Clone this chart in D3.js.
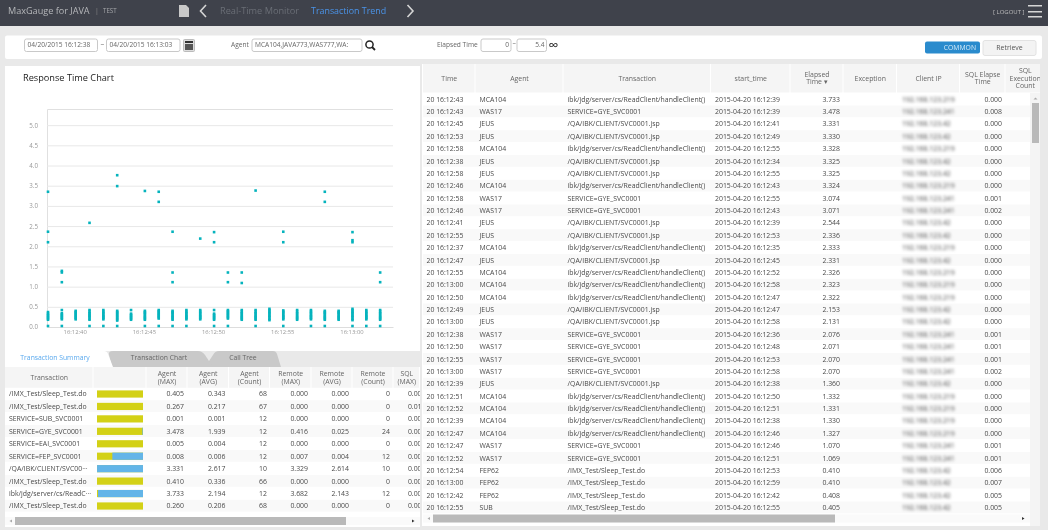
<!DOCTYPE html>
<html>
<head>
<meta charset="utf-8">
<script src="https://cdn.jsdelivr.net/npm/d3@7"></script>
<style>
html, body { margin: 0; padding: 0; background: #e9e9e9; overflow: hidden; }
svg { display: block; font-family: "Open Sans", sans-serif; filter: blur(0.25px); }
.blurred { filter: blur(1.5px); }
</style>
</head>
<body>
<script>
// ---- chart data: elapsed time of every transaction, per second
var chartSeconds = [38, 39, 40, 41, 42, 43, 44, 45, 46, 47, 48, 49, 50, 51, 52, 53, 54, 55, 56, 57, 58, 59, 60, 61, 62];
var chartElapsed = [
    [0.025, 0.18, 0.21, 0.24, 0.27, 0.30, 0.33, 0.37, 2.10, 2.36, 3.35],
    [0.025, 0.19, 0.22, 0.25, 0.28, 0.31, 0.34, 0.42, 1.11, 1.35, 1.39],
    [0.19, 0.22, 0.25, 0.28, 0.31, 0.34, 0.37, 0.40],
    [0.025, 0.18, 0.21, 0.25, 0.28, 0.31, 0.34, 0.38, 0.42, 2.58],
    [0.025, 0.19, 0.22, 0.25, 0.28, 0.31, 0.35, 0.38, 0.42],
    [0.025, 0.16, 0.19, 0.22, 0.25, 0.28, 0.31, 0.34, 0.37, 0.40, 3.49, 3.76],
    [0.18, 0.21, 0.24, 0.27, 0.30, 0.33, 0.42],
    [0.025, 0.18, 0.21, 0.24, 0.27, 0.31, 0.34, 0.37, 0.40, 3.37],
    [0.025, 0.21, 0.24, 0.27, 0.30, 0.33, 0.36, 0.39, 0.42, 3.10, 3.35],
    [0.025, 0.18, 0.21, 0.24, 0.27, 0.31, 0.34, 0.37, 0.40, 1.11, 1.35, 2.36],
    [0.025, 0.19, 0.22, 0.25, 0.28, 0.31, 0.35, 0.38, 0.42],
    [0.19, 0.22, 0.25, 0.28, 0.31, 0.35, 0.38, 0.42, 2.19],
    [0.025, 0.18, 0.21, 0.24, 0.27, 0.30, 0.33, 0.42, 2.10, 2.35],
    [0.025, 0.21, 0.24, 0.27, 0.30, 0.33, 0.36, 0.39, 0.42, 1.11, 1.35],
    [0.18, 0.21, 0.24, 0.27, 0.31, 0.34, 0.38, 0.42, 1.09, 1.35],
    [0.025, 0.18, 0.21, 0.24, 0.27, 0.31, 0.34, 0.38, 0.42, 3.38],
    [0.17, 0.20, 0.24, 0.27, 0.31, 0.34, 0.38, 0.41, 0.45],
    [0.025, 0.19, 0.22, 0.25, 0.28, 0.31, 0.35, 0.38, 0.41, 2.10, 2.36],
    [0.18, 0.21, 0.24, 0.27, 0.31, 0.34, 0.38, 0.42],
    [0.025, 0.19, 0.22, 0.25, 0.28, 0.31, 0.35, 0.38, 0.42],
    [0.025, 0.18, 0.21, 0.24, 0.27, 0.31, 0.34, 0.37, 0.40, 3.10, 3.35],
    [0.18, 0.21, 0.24, 0.27, 0.31, 0.34, 0.37, 0.40],
    [0.025, 0.17, 0.20, 0.24, 0.27, 0.31, 0.34, 0.38, 0.41, 0.45, 2.10, 2.15, 2.35],
    [0.025, 0.19, 0.22, 0.25, 0.28, 0.31, 0.35, 0.38, 0.42],
    [0.025, 0.18, 0.21, 0.24, 0.27, 0.31, 0.34, 0.38, 0.42, 1.11, 1.35]
];
var yTickValues = [0, 0.5, 1, 1.5, 2, 2.5, 3, 3.5, 4, 4.5, 5];
var xTickSeconds = [40, 45, 50, 55, 60];

// ---- transaction summary table
var summaryHeaders = [["Transaction"], [""], ["Agent", "(MAX)"], ["Agent", "(AVG)"], ["Agent", "(Count)"], ["Remote", "(MAX)"], ["Remote", "(AVG)"], ["Remote", "(Count)"], ["SQL", "(MAX)"]];
var summaryNames = ["/IMX_Test/Sleep_Test.do", "/IMX_Test/Sleep_Test.do", "SERVICE=SUB_SVC0001", "SERVICE=GYE_SVC0001", "SERVICE=EAI_SVC0001", "SERVICE=FEP_SVC0001", "/QA/IBK/CLIENT/SVC00\u00b7\u00b7\u00b7", "/IMX_Test/Sleep_Test.do", "ibk/jdg/server/cs/ReadC\u00b7\u00b7\u00b7", "/IMX_Test/Sleep_Test.do"];
var agentMax = ["0.405", "0.267", "0.001", "3.478", "0.005", "0.008", "3.331", "0.410", "3.733", "0.260"];
var agentAvg = ["0.343", "0.217", "0.001", "1.939", "0.004", "0.006", "2.617", "0.336", "2.194", "0.206"];
var agentCount = ["68", "67", "12", "12", "12", "12", "10", "66", "12", "68"];
var remoteMax = ["0.000", "0.000", "0.000", "0.416", "0.000", "0.007", "3.329", "0.000", "3.682", "0.000"];
var remoteAvg = ["0.000", "0.000", "0.000", "0.025", "0.000", "0.004", "2.614", "0.000", "2.143", "0.000"];
var remoteCount = ["0", "0", "0", "24", "0", "12", "10", "0", "12", "0"];
var sqlMax = ["0.006", "0.010", "0.001", "0.008", "0.001", "0.001", "0.000", "0.007", "0.000", "0.005"];

// ---- transaction list table
var listHeaders = [["Time"], ["Agent"], ["Transaction"], ["start_time"], ["Elapsed", "Time \u25be"], ["Exception"], ["Client IP"], ["SQL Elapse", "Time"], ["SQL", "Execution", "Count"]];
var listTime = ["12:43", "12:43", "12:45", "12:53", "12:58", "12:38", "12:58", "12:46", "12:58", "12:46", "12:41", "12:55", "12:37", "12:47", "12:55", "13:00", "12:50", "12:49", "13:00", "12:38", "12:50", "12:55", "13:00", "12:39", "12:51", "12:52", "12:39", "12:47", "12:47", "12:52", "12:54", "13:00", "12:42", "12:55"];
var listAgent = ["MCA104", "WAS17", "JEUS", "JEUS", "MCA104", "JEUS", "JEUS", "MCA104", "WAS17", "WAS17", "JEUS", "JEUS", "MCA104", "JEUS", "MCA104", "MCA104", "MCA104", "JEUS", "JEUS", "WAS17", "WAS17", "WAS17", "WAS17", "JEUS", "MCA104", "MCA104", "MCA104", "MCA104", "WAS17", "WAS17", "FEP62", "FEP62", "FEP62", "SUB"];
var listStart = ["12:39", "12:39", "12:41", "12:49", "12:55", "12:34", "12:55", "12:43", "12:55", "12:43", "12:39", "12:53", "12:35", "12:45", "12:52", "12:58", "12:47", "12:47", "12:58", "12:36", "12:48", "12:53", "12:58", "12:38", "12:50", "12:51", "12:38", "12:46", "12:46", "12:51", "12:53", "12:59", "12:42", "12:55"];
var listElapsed = ["3.733", "3.478", "3.331", "3.330", "3.328", "3.325", "3.325", "3.324", "3.074", "3.071", "2.544", "2.336", "2.333", "2.331", "2.326", "2.323", "2.322", "2.153", "2.131", "2.076", "2.071", "2.070", "2.070", "1.360", "1.332", "1.331", "1.330", "1.327", "1.070", "1.069", "0.410", "0.410", "0.408", "0.405"];
var listSql = ["0.000", "0.008", "0.000", "0.000", "0.000", "0.000", "0.000", "0.000", "0.001", "0.002", "0.000", "0.000", "0.000", "0.000", "0.000", "0.000", "0.000", "0.000", "0.000", "0.001", "0.001", "0.001", "0.002", "0.000", "0.000", "0.000", "0.000", "0.000", "0.001", "0.001", "0.006", "0.007", "0.005", "0.005"];

// transaction name and client address follow the agent
var agentTx = {MCA104: "ibk/jdg/server/cs/ReadClient/handleClient()", WAS17: "SERVICE=GYE_SVC0001", JEUS: "/QA/IBK/CLIENT/SVC0001.jsp", FEP62: "/IMX_Test/Sleep_Test.do", SUB: "/IMX_Test/Sleep_Test.do"};
var agentIp = {MCA104: "192.168.123.219", WAS17: "192.168.123.241", JEUS: "192.168.123.42", FEP62: "192.168.123.42", SUB: "192.168.123.42"};

var textColor = "#4a4a4a";
var cellSize = 6.9, barSize = 6.6;
var svg = d3.select("body").append("svg").attr("width", 1048).attr("height", 530);

function box(x, y, w, h, fill, stroke, r) {
    return svg.append("rect").attr("x", x).attr("y", y).attr("width", w).attr("height", h)
        .attr("fill", fill).attr("stroke", stroke || "none").attr("rx", r || 0);
}
function label(parent, x, y, txt, size, color, anchor) {
    return parent.append("text").attr("x", x).attr("y", y).attr("dy", "0.35em")
        .attr("font-size", size).attr("fill", color).attr("text-anchor", anchor || "start").text(txt);
}

// ---- top bar
box(0, 0, 1048, 26, "#3f424b");
label(svg, 8, 10.5, "MaxGauge for JAVA", 9.1, "#b5b7ba");
label(svg, 95, 10.5, "|", 7, "#888");
label(svg, 103, 10.5, "TEST", 6.2, "#a5a7aa");
svg.append("path").attr("d", "M179 5h7l3 3v9h-10z").attr("fill", "#c9c9c9");
svg.append("path").attr("d", "M206 5l-5.5 6 5.5 6").attr("fill", "none").attr("stroke", "#d5d5d5").attr("stroke-width", 1.6);
label(svg, 220, 10.5, "Real-Time Monitor", 9.2, "#6a6e76");
label(svg, 311, 10.5, "Transaction Trend", 8.9, "#4a94ea");
svg.append("path").attr("d", "M407.5 5l5.5 6-5.5 6").attr("fill", "none").attr("stroke", "#d5d5d5").attr("stroke-width", 1.6);
label(svg, 993, 12, "[ LOGOUT ]", 6, "#bbb");
[5, 11, 16].forEach(function (y) { box(1028, y, 14, 1.5, "#d5d5d5"); });

// ---- filter bar
box(5, 35.5, 1037, 23.5, "#fff", null, 2);
function input(x, w, txt, anchor) {
    box(x, 39, w, 12.5, "#fff", "#c9c9c9", 2);
    label(svg, anchor === "end" ? x + w - 2 : x + 3, 45, txt, barSize, "#666", anchor);
}
input(24.5, 73, "04/20/2015 16:12:38");
label(svg, 100.5, 45, "~", barSize, "#666");
input(106.5, 73.5, "04/20/2015 16:13:03");
box(183.5, 39.5, 11, 12, "#ddd", "#bbb", 1);
box(185, 41, 8, 2, "#333");
box(185, 44, 8, 6, "#555");
label(svg, 231, 45, "Agent", barSize, "#666");
input(252, 110, "MCA104,JAVA773,WAS777,WA:");
svg.append("circle").attr("cx", 369.5).attr("cy", 44.5).attr("r", 3.6).attr("fill", "none").attr("stroke", "#222").attr("stroke-width", 1.5);
svg.append("path").attr("d", "M372 47l3 3").attr("stroke", "#222").attr("stroke-width", 1.8);
label(svg, 437, 45, "Elapsed Time", barSize, "#666");
input(481, 30, "0", "end");
label(svg, 512.5, 42.5, "~", 6, "#666");
input(517, 29.5, "5.4", "end");
label(svg, 553.5, 45, "\u221e", 14, "#222", "middle");
box(925, 41.5, 55, 12, "#2a8bcd", null, 2);
label(svg, 976, 47.5, "COMMON", 6.8, "#d8ecf8", "end");
box(983, 40.5, 53, 15, "#f3f3f3", "#e2e2e2", 2);
label(svg, 1009.5, 47.5, "Retrieve", 6.9, "#555", "middle");

// ---- response time chart
box(5, 66, 415, 285, "#fff");
label(svg, 23, 78, "Response Time Chart", 9.2, "#222");

var timeOf = function (s) { return new Date(2015, 3, 20, 16, 12, s); };
var x = d3.scaleTime().domain([timeOf(38), timeOf(63)]).range([47, 393]);
var y = d3.scaleLinear().domain([0, 5.4]).range([327, 109]);

var yAxis = svg.append("g").attr("transform", "translate(47,0)")
    .call(d3.axisLeft(y).tickValues(yTickValues).tickFormat(d3.format(".1f")).tickSize(-346).tickPadding(9));
yAxis.selectAll(".tick line").attr("stroke", "#e8e8e8");
yAxis.select(".domain").attr("stroke", "#e0e0e0");
yAxis.selectAll("text").attr("font-size", 6.2).attr("fill", "#999").attr("font-family", "Open Sans");

var xAxis = svg.append("g").attr("transform", "translate(0,327)")
    .call(d3.axisBottom(x).tickValues(xTickSeconds.map(timeOf)).tickFormat(d3.timeFormat("%H:%M:%S")).tickSize(0).tickPadding(2.5));
xAxis.select(".domain").attr("stroke", "#ddd");
xAxis.selectAll("text").attr("font-size", 5.9).attr("fill", "#999").attr("font-family", "Open Sans");

var markSize = 2.6;
var points = [];
chartSeconds.forEach(function (s, i) {
    chartElapsed[i].forEach(function (v) { points.push({s: s, v: v}); });
});
svg.append("g").selectAll("rect").data(points).enter().append("rect")
    .attr("x", function (d) { return x(timeOf(d.s)) + 1 - markSize / 2; })
    .attr("y", function (d) { return y(d.v) - markSize / 2; })
    .attr("width", markSize).attr("height", markSize)
    .attr("fill", "#05b3bd");

// ---- tabs
svg.append("path").attr("d", "M205 367l8-12q2-4 6-4h54q3 0 4 3l4 13z").attr("fill", "#c9c9c9");
svg.append("path").attr("d", "M112 367l-3-12q-1-4 4-4h85q4 0 7 4l8 12z").attr("fill", "#c9c9c9");
svg.append("path").attr("d", "M5 351h99q3 0 4 3l5 13h-108z").attr("fill", "#fff");
label(svg, 55, 357.5, "Transaction Summary", 6.8, "#5aa9ee", "middle");
label(svg, 159, 357.5, "Transaction Chart", 6.8, "#666", "middle");
label(svg, 243, 357.5, "Call Tree", 6.8, "#666", "middle");

// ---- generic table pieces
function headerCells(parent, edges, headers, top, bottom) {
    headers.forEach(function (lines, i) {
        parent.append("rect").attr("x", edges[i]).attr("y", top).attr("width", edges[i + 1] - edges[i] - 1)
            .attr("height", bottom - top).attr("fill", "#f5f5f5");
        var cx = (edges[i] + edges[i + 1]) / 2, mid = (top + bottom) / 2, h = 7.6;
        lines.forEach(function (t, j) {
            label(parent, cx, mid + (j - (lines.length - 1) / 2) * h, t, cellSize, "#666", "middle");
        });
    });
}
function column(parent, values, rowY, xPos, anchor, color) {
    return parent.append("g").selectAll("text").data(values).enter().append("text")
        .attr("x", xPos).attr("y", function (d, i) { return rowY(i); }).attr("dy", "0.35em")
        .attr("font-size", cellSize).attr("fill", color || textColor).attr("text-anchor", anchor)
        .text(function (d) { return d; });
}
function stripes(parent, n, rowY, x0, x1, step) {
    parent.append("g").selectAll("rect").data(d3.range(n)).enter().append("rect")
        .attr("x", x0).attr("width", x1 - x0)
        .attr("y", function (d) { return rowY(d) - step / 2; }).attr("height", step - 0.6)
        .attr("fill", function (d) { return d % 2 ? "#f9f9f9" : "#fff"; });
}
function scrollTrack(left, right, top, thumb0, thumb1) {
    box(left, top, right - left, 8, "#fafafa");
    box(thumb0, top, thumb1 - thumb0, 8, "#b9b9b9");
    svg.append("path").attr("d", "M" + (left + 7) + " " + (top + 2.5) + "l-2.5 1.5 2.5 1.5z").attr("fill", "#aaa");
    svg.append("path").attr("d", "M" + (right - 8) + " " + (top + 2.5) + "l2.5 1.5-2.5 1.5z").attr("fill", "#333");
}

// ---- transaction summary
box(5, 367, 415, 160, "#fff");
svg.append("clipPath").attr("id", "leftClip").append("rect").attr("x", 5).attr("y", 367).attr("width", 415).attr("height", 160);
var left = svg.append("g").attr("clip-path", "url(#leftClip)");
var summaryEdges = [5, 93.5, 146.5, 187.5, 229, 270, 311.5, 352.5, 393.5, 420];
headerCells(left, summaryEdges, summaryHeaders, 367, 388);
var sumY = d3.scaleLinear().domain([0, 9]).range([394, 506]);
stripes(left, 10, sumY, 5, 420, 12.44);
column(left, summaryNames, sumY, 9, "start");
var share = d3.scaleLinear().domain([0, 1]).range([97, 143]);
var remoteShare = agentAvg.map(function (a, i) { return +remoteAvg[i] / +a; });
left.append("g").selectAll("rect").data(remoteShare).enter().append("rect")
    .attr("x", share(0)).attr("width", share(1) - share(0))
    .attr("y", function (d, i) { return sumY(i) - 3.6; }).attr("height", 7.2).attr("fill", "#d3d116");
left.append("g").selectAll("rect").data(remoteShare).enter().append("rect")
    .attr("x", function (d) { return share(1 - d); }).attr("width", function (d) { return share(1) - share(1 - d); })
    .attr("y", function (d, i) { return sumY(i) - 3.6; }).attr("height", 7.2).attr("fill", "#63b5e8");
column(left, agentMax, sumY, 184, "end");
column(left, agentAvg, sumY, 225.5, "end");
column(left, agentCount, sumY, 267, "end");
column(left, remoteMax, sumY, 308, "end");
column(left, remoteAvg, sumY, 349, "end");
column(left, remoteCount, sumY, 390, "end");
column(left, sqlMax, sumY, 425.5, "end");
scrollTrack(5, 420, 517, 15, 346);

// ---- transaction list
box(422, 64, 618, 462, "#fff");
svg.append("clipPath").attr("id", "rightClip").append("rect").attr("x", 422).attr("y", 64).attr("width", 618).attr("height", 462);
var right = svg.append("g").attr("clip-path", "url(#rightClip)");
var listEdges = [423, 475.5, 563.5, 711, 790.5, 843.5, 897, 960, 1005.5, 1045];
headerCells(right, listEdges, listHeaders, 64, 92.5);
var rowY = d3.scaleLinear().domain([0, 33]).range([99.3, 507.7]);
stripes(right, 34, rowY, 423, 1030, 12.37);
column(right, listTime.map(function (t) { return "20 16:" + t; }), rowY, 426.5, "start");
column(right, listAgent, rowY, 479.5, "start");
column(right, listAgent.map(function (a) { return agentTx[a]; }), rowY, 567.5, "start");
column(right, listStart.map(function (t) { return "2015-04-20 16:" + t; }), rowY, 715, "start");
column(right, listElapsed, rowY, 840, "end");
column(right, listAgent.map(function (a) { return agentIp[a]; }), rowY, 902, "start", "#444").attr("class", "blurred");
column(right, listSql, rowY, 1002, "end");
box(1030, 93, 10, 433, "#f4f4f4");
box(1032, 103, 7, 40, "#b9b9b9");
svg.append("path").attr("d", "M1035.5 97.5l-2 2h4z").attr("fill", "#aaa");
scrollTrack(423, 1030, 514.5, 433, 835);
</script>
</body>
</html>
